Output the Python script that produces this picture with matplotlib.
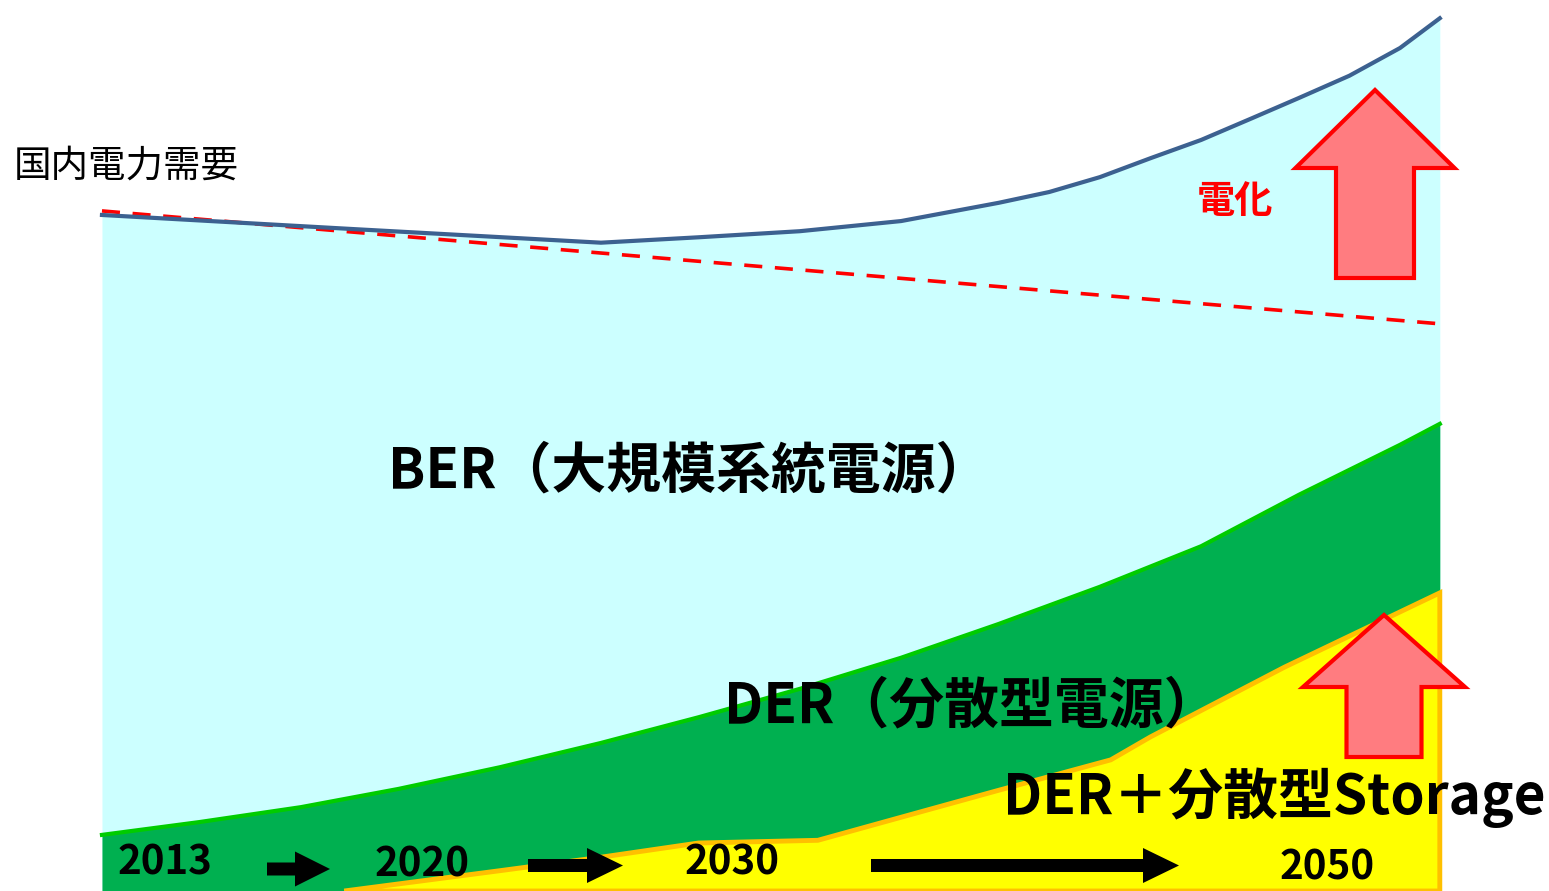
import matplotlib
matplotlib.use("Agg")
import matplotlib.pyplot as plt
import matplotlib.transforms as mtransforms
from matplotlib.patches import Polygon

plt.rcParams['font.family'] = ['Noto Sans CJK JP', 'DejaVu Sans']

# 国内電力需要 (2013年 = 100 とした指数)
demand_years = [2013, 2020, 2026.8, 2029.5, 2032.3, 2035.1, 2037.8, 2039.2, 2040.6,
                2042.0, 2043.4, 2044.8, 2046.1, 2047.5, 2048.9, 2050]
demand_index = [100.0, 97.9, 95.9, 96.7, 97.6, 99.1, 101.8, 103.4, 105.6,
                108.4, 111.1, 114.3, 117.3, 120.6, 124.7, 129.1]

# 電化なしのトレンド(点線)
trend_years = [2013, 2050]
trend_index = [100.6, 83.9]

# DER(分散型電源)
der_years = [2013, 2015.7, 2018.5, 2021.2, 2024.0, 2026.8, 2029.5, 2032.3,
             2035.1, 2037.8, 2040.6, 2043.4, 2046.1, 2048.9, 2050]
der_index = [8.3, 10.2, 12.4, 15.1, 18.3, 21.9, 25.7, 29.9,
             34.5, 39.5, 45.0, 51.0, 58.6, 66.0, 69.1]

# DER+分散型Storage
storage_years = [2019.7, 2024.0, 2026.8, 2029.5, 2032.8, 2035.5, 2037.8,
                 2040.9, 2042.0, 2045.7, 2050]
storage_index = [0.0, 3.0, 5.0, 7.1, 7.5, 11.5, 14.9, 19.4, 22.8, 33.1, 44.1]

year_labels = ["2013", "2020", "2030", "2050"]

W, H = 1549, 891
fig = plt.figure(figsize=(W / 100, H / 100), dpi=100)
ax = fig.add_axes([0, 0, 1, 1])
ax.set_xlim(2010.18, 2053.02)
ax.set_ylim(0, 131.8)
ax.axis('off')

# 画像のピクセル座標で配置する装飾用
px = mtransforms.Affine2D().scale(1 / W, -1 / H).translate(0, 1) + ax.transAxes

# 面グラフ
ax.fill_between(demand_years, 0, demand_index, color='#CCFFFF', lw=0, zorder=1)
ax.fill_between(der_years, 0, der_index, color='#00B050', lw=0, zorder=2)
ax.plot(der_years, der_index, color='#00CC00', lw=3, zorder=3)
ax.fill(storage_years + [2050, storage_years[0]], storage_index + [0, 0],
        facecolor='#FFFF00', edgecolor='#FFC000', lw=3.5, zorder=4)

# 需要の線
ax.plot(trend_years, trend_index, color='#FF0000', lw=2.6, dashes=(5, 3.5), zorder=5)
ax.plot(demand_years, demand_index, color='#3C6190', lw=3, zorder=6)


def up_arrow(cx, tip, wing_y, head_w, shaft_w, bottom):
    pts = [(cx, tip), (cx + head_w / 2, wing_y), (cx + shaft_w / 2, wing_y),
           (cx + shaft_w / 2, bottom), (cx - shaft_w / 2, bottom),
           (cx - shaft_w / 2, wing_y), (cx - head_w / 2, wing_y)]
    ax.add_patch(Polygon(pts, closed=True, transform=px, facecolor='#FF7C80',
                         edgecolor='#FF0000', lw=3, joinstyle='miter', zorder=7))


def right_arrow(x0, x1, y, head_len=35, shaft_h=13, head_h=35):
    pts = [(x0, y - shaft_h / 2), (x1 - head_len, y - shaft_h / 2),
           (x1 - head_len, y - head_h / 2), (x1, y),
           (x1 - head_len, y + head_h / 2), (x1 - head_len, y + shaft_h / 2),
           (x0, y + shaft_h / 2)]
    ax.add_patch(Polygon(pts, closed=True, transform=px, facecolor='black',
                         edgecolor='none', zorder=7))


up_arrow(1375, 90, 168, 159, 78, 278)
up_arrow(1384, 615, 687, 162, 75, 757)

right_arrow(267, 330, 869)
right_arrow(528, 623, 865.5, head_len=36)
right_arrow(871, 1179, 865.5, head_len=36)

# テキスト
ax.text(14, 166, "国内電力需要", transform=px, fontsize=27, va='center', ha='left', zorder=8)
ax.text(388, 471, "BER（大規模系統電源）", transform=px, fontsize=39.5,
        weight='bold', va='center', ha='left', zorder=8)
ax.text(724, 706, "DER（分散型電源）", transform=px, fontsize=39.5,
        weight='bold', va='center', ha='left', zorder=8)
ax.text(1003, 798, "DER＋分散型Storage", transform=px, fontsize=39.5,
        weight='bold', va='center', ha='left', zorder=8)
ax.text(1235, 201, "電化", transform=px, fontsize=27.5, color='#FF0000',
        weight='bold', va='center', ha='center', zorder=8)

label_pos = [(165, 863), (422, 865), (732, 863), (1327, 868)]
for lab, (x, y) in zip(year_labels, label_pos):
    ax.text(x, y, lab, transform=px, fontsize=29, weight='bold',
            va='center', ha='center', zorder=8)

fig.savefig("out.png", dpi=100)
